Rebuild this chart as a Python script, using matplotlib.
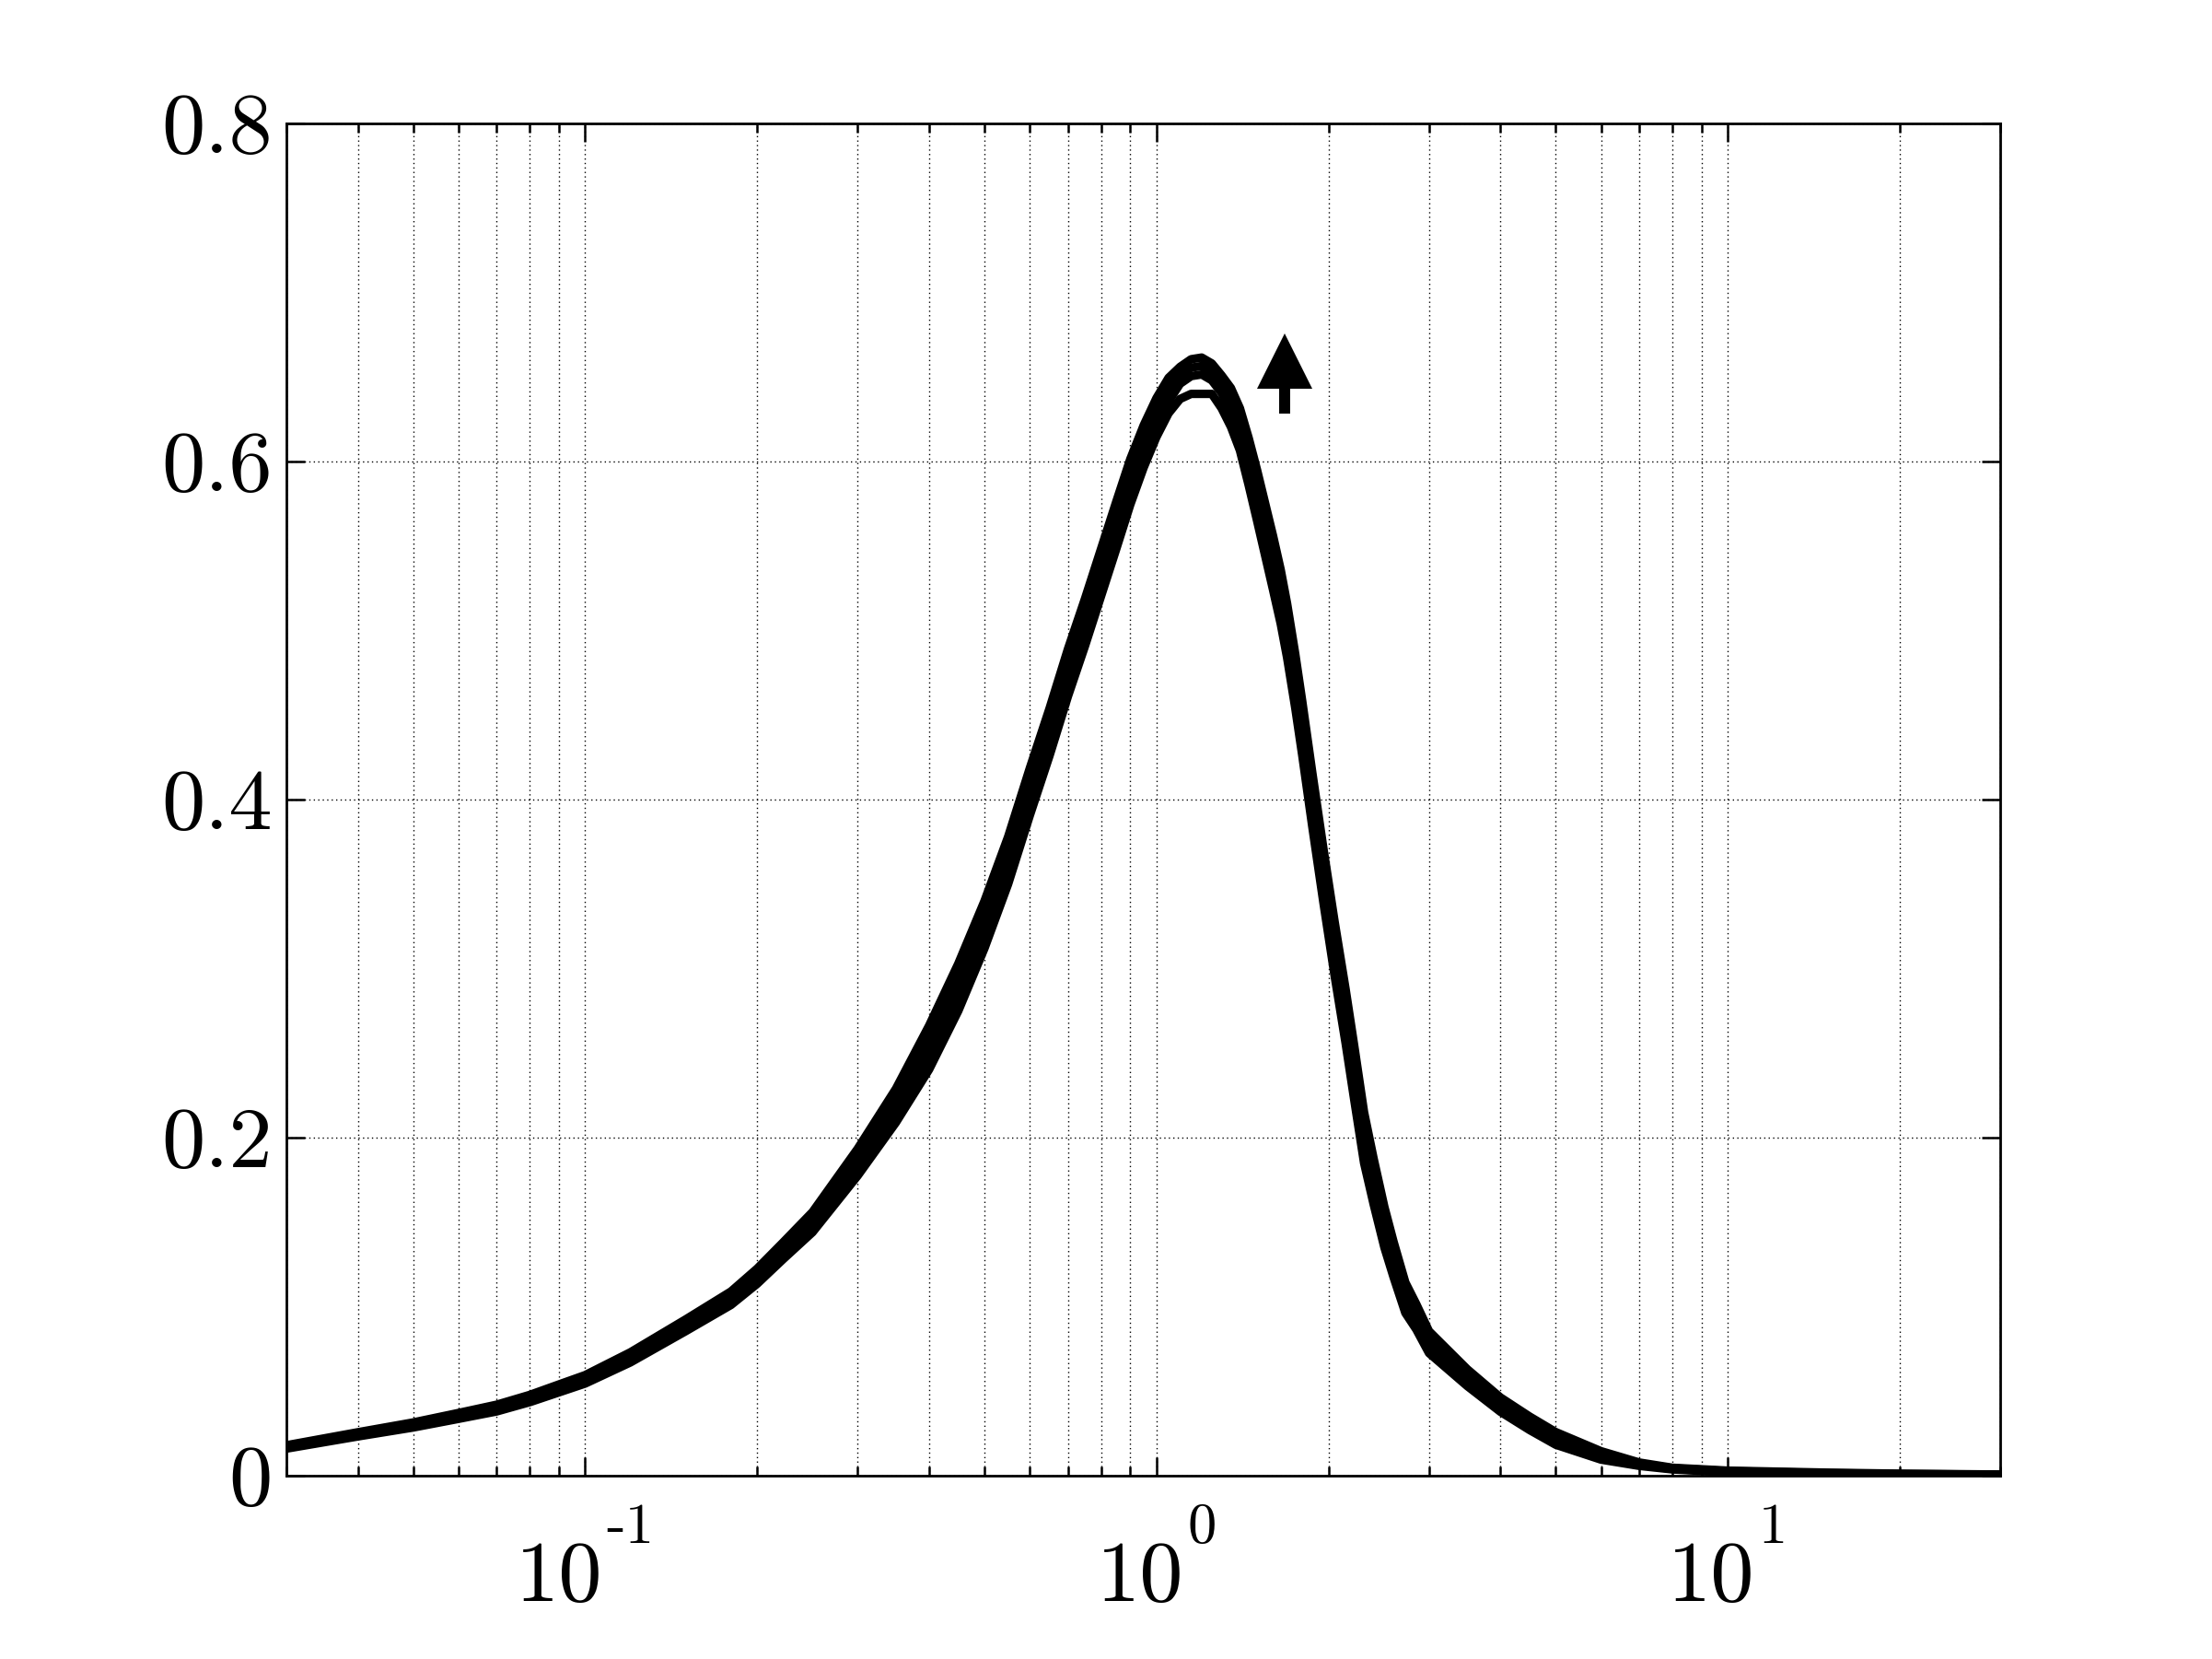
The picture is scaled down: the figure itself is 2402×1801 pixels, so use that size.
import matplotlib
matplotlib.use("Agg")
import matplotlib.pyplot as plt
from matplotlib.transforms import blended_transform_factory, offset_copy

# sample points (log axis), 8 per row
x_vals = [0.03, 0.04, 0.05, 0.06, 0.07, 0.08, 0.09, 0.1,
          0.12, 0.15, 0.18, 0.2, 0.222, 0.25, 0.3, 0.35,
          0.4, 0.45, 0.5, 0.55, 0.6, 0.65, 0.7, 0.75,
          0.8, 0.85, 0.9, 0.95, 1.0, 1.05, 1.1, 1.15,
          1.2, 1.25, 1.3, 1.35, 1.4, 1.45, 1.5, 1.6,
          1.65, 1.693, 1.75, 1.8, 1.874, 1.96, 2.05, 2.143,
          2.22, 2.309, 2.4, 2.506, 2.6, 2.727, 2.85, 3.0,
          3.5, 4.0, 4.5, 5.0, 6.0, 7.0, 8.0, 10.0,
          15.0, 20.0, 30.0]

curve_a = [0.018, 0.0257, 0.0315, 0.0371, 0.042, 0.0478, 0.054, 0.0595,
           0.073, 0.0925, 0.109, 0.1225, 0.138, 0.156, 0.1935, 0.229,
           0.2663, 0.303, 0.340, 0.378, 0.4184, 0.454, 0.4891, 0.519,
           0.5484, 0.576, 0.6015, 0.6215, 0.6375, 0.6495, 0.656, 0.6605,
           0.6615, 0.658, 0.651, 0.6435, 0.6315, 0.614, 0.595, 0.556,
           0.536, 0.516, 0.486, 0.458, 0.416, 0.371, 0.328, 0.288,
           0.254, 0.215, 0.1875, 0.159, 0.1385, 0.1143, 0.1015, 0.0855,
           0.063, 0.0463, 0.035, 0.0258, 0.0145, 0.0078, 0.0047, 0.003,
           0.0018, 0.0012, 0.0007]
curve_b = [0.0173, 0.0248, 0.0305, 0.0359, 0.0407, 0.0463, 0.0524, 0.0578,
           0.071, 0.0902, 0.1063, 0.1195, 0.1347, 0.152, 0.1882, 0.2223,
           0.2576, 0.2937, 0.3307, 0.3687, 0.4091, 0.4447, 0.4798, 0.5097,
           0.5391, 0.5667, 0.5925, 0.6132, 0.6298, 0.6425, 0.651, 0.6555,
           0.6565, 0.653, 0.6455, 0.6358, 0.6232, 0.6047, 0.585, 0.5453,
           0.5253, 0.5053, 0.4753, 0.4473, 0.4053, 0.3603, 0.3173, 0.2773,
           0.2433, 0.205, 0.1785, 0.151, 0.1315, 0.1083, 0.0965, 0.0812,
           0.0597, 0.0434, 0.0323, 0.0233, 0.0128, 0.0071, 0.0044, 0.0027,
           0.0015, 0.001, 0.0006]
curve_c = [0.0167, 0.0240, 0.0295, 0.0347, 0.0393, 0.0449, 0.0508, 0.0562,
           0.069, 0.0878, 0.1037, 0.1165, 0.1313, 0.148, 0.1828, 0.2157,
           0.249, 0.2843, 0.3213, 0.3593, 0.3997, 0.4353, 0.4704, 0.5003,
           0.5297, 0.5573, 0.5835, 0.6048, 0.6222, 0.6355, 0.646, 0.6505,
           0.6515, 0.648, 0.6405, 0.6282, 0.6148, 0.5953, 0.575, 0.5347,
           0.5147, 0.4947, 0.4647, 0.4367, 0.3947, 0.3497, 0.3067, 0.2667,
           0.2327, 0.195, 0.1695, 0.143, 0.1245, 0.1023, 0.0915, 0.0768,
           0.0563, 0.0406, 0.0297, 0.0208, 0.0112, 0.0065, 0.004, 0.0023,
           0.0011, 0.0008, 0.0004]
curve_d = [0.016, 0.0232, 0.0285, 0.0336, 0.038, 0.0435, 0.0493, 0.0545,
           0.067, 0.0855, 0.101, 0.1135, 0.128, 0.144, 0.1775, 0.209,
           0.2403, 0.275, 0.312, 0.350, 0.3904, 0.426, 0.4611, 0.491,
           0.5204, 0.548, 0.5745, 0.5965, 0.6145, 0.6285, 0.637, 0.640,
           0.640, 0.640, 0.6315, 0.6205, 0.6065, 0.586, 0.565, 0.524,
           0.504, 0.484, 0.454, 0.426, 0.384, 0.339, 0.296, 0.256,
           0.222, 0.185, 0.1605, 0.135, 0.1175, 0.0963, 0.0865, 0.0725,
           0.053, 0.0378, 0.027, 0.0183, 0.0095, 0.0058, 0.0037, 0.002,
           0.0008, 0.0006, 0.0003]

y_ticks = [0, 0.2, 0.4, 0.6, 0.8]
y_tick_labels = ["0", "0.2", "0.4", "0.6", "0.8"]
x_ticks = [0.1, 1, 10]
x_exponents = ["-1", "0", "1"]

# arrow marker near the peak
arrow_x = 1.675
arrow_tip = 0.6755
arrow_base = 0.6433
arrow_tail = 0.6286

TICK_FONT = "cmr10"

fig = plt.figure(figsize=(12.01, 9.005), dpi=200)
ax = fig.add_axes([0.1295, 0.1105, 0.7748, 0.8151])
ax.set_xscale("log")

for ys in (curve_a, curve_b, curve_c, curve_d):
    ax.plot(x_vals, ys, color="k", lw=3.3, solid_joinstyle="round")

# arrow: stem + triangular head
ax.plot([arrow_x, arrow_x], [arrow_tail, arrow_base], color="k", lw=4.3,
        solid_capstyle="butt")
ax.plot([arrow_x], [(arrow_tip + arrow_base) / 2], marker="^", ms=21.4,
        mew=0, color="k")

ax.set_xlim(0.03, 30)
ax.set_ylim(0, 0.8)

ax.set_axisbelow("line")
grid_kw = dict(color="k", lw=0.5, linestyle=(0, (1, 2.5)))
ax.grid(True, which="both", axis="x", **grid_kw)
ax.grid(True, which="major", axis="y", **grid_kw)

ax.set_yticks(y_ticks)
ax.set_yticklabels(y_tick_labels, fontsize=34, fontfamily=TICK_FONT)
ax.set_xticks(x_ticks)
ax.tick_params(which="both", direction="in", top=True, right=True, width=0.9,
               labelbottom=False)
ax.tick_params(which="major", length=7.2, pad=5.5)
ax.tick_params(which="minor", length=3.6)
ax.tick_params(axis="y", which="minor", left=False, right=False)
for sp in ax.spines.values():
    sp.set_linewidth(1.0)

# MATLAB-like 10^n labels: superscript sitting on top of the base
trans = blended_transform_factory(ax.transData, ax.transAxes)
renderer = fig.canvas.get_renderer()
for xv, ex in zip(x_ticks, x_exponents):
    base = ax.text(xv, 0, "10", fontsize=34, fontfamily=TICK_FONT,
                   ha="left", va="baseline", transform=trans)
    sup = ax.text(xv, 0, ex, fontsize=22.5, fontfamily=TICK_FONT,
                  ha="left", va="baseline", transform=trans)
    wb = base.get_window_extent(renderer).width
    ws = sup.get_window_extent(renderer).width
    left = -(wb + 4 + ws) / 2
    base.set_transform(offset_copy(trans, fig=fig, x=left, y=-136, units="dots"))
    sup.set_transform(offset_copy(trans, fig=fig, x=left + wb + 4, y=-73, units="dots"))

fig.savefig("out.png", dpi=200)
